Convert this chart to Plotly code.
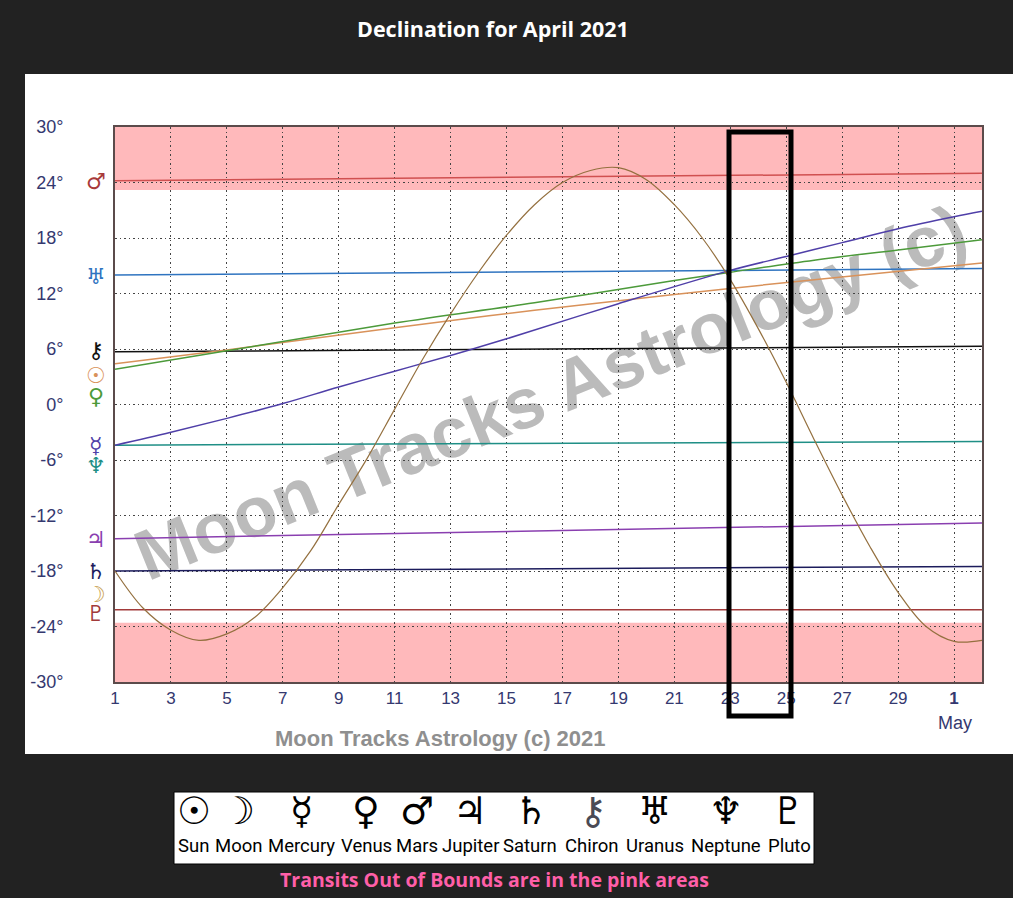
import plotly.graph_objects as go

W, H = 1013, 898

# ---------- data ----------
moon_days = list(range(1, 33))
moon = [-18.0, -22.0, -24.4, -25.5, -24.8, -23.0, -19.8, -15.8, -10.8, -5.9, -0.5, 4.9, 9.8, 14.3, 18.3, 21.6,
        24.0, 25.3, 25.6, 24.3, 21.6, 18.0, 13.5, 8.2, 2.4, -3.8, -9.8, -15.4, -20.3, -24.0, -25.6, -25.5]

sun_days = [1, 5, 11, 16, 21, 26, 32]
sun = [4.4, 5.9, 8.3, 10.2, 11.9, 13.5, 15.3]
venus_days = [1, 5, 11, 16, 21, 23, 26, 29, 32]
venus = [3.8, 5.8, 8.8, 11.0, 13.4, 14.3, 15.6, 16.7, 17.8]
mercury_days = [1, 3, 5, 7, 9, 11, 13, 15, 19, 23, 25, 27, 29, 31, 32]
mercury = [-4.4, -3.0, -1.5, 0.1, 1.9, 3.6, 5.3, 7.1, 10.9, 14.5, 16.0, 17.5, 19.0, 20.3, 20.9]

flat_days = [1, 32]
mars = [24.2, 25.0]
jupiter = [-14.5, -12.8]
saturn = [-18.0, -17.5]
chiron = [5.7, 6.3]
uranus = [14.0, 14.7]
neptune = [-4.4, -4.0]
pluto = [-22.2, -22.2]

x_ticks = list(range(1, 32, 2))
x_labels = [str(v) for v in range(1, 30, 2)] + ["<b>1</b>"]
y_ticks = list(range(-30, 31, 6))
y_labels = [f"{v}°" for v in y_ticks]
oob_north = 23.2
oob_south = -23.6

legend_names = ["Sun", "Moon", "Mercury", "Venus", "Mars", "Jupiter", "Saturn", "Chiron", "Uranus", "Neptune", "Pluto"]
legend_glyphs = ["☉", "☽", "☿", "♀", "♂", "♃", "♄", "⚷", "♅", "♆", "♇"]

# ---------- layout helpers ----------
L, R, T, B = 115, 982, 127, 682
BAND = "#ffb9bb"
AXIS = "#5b4b4b"
NAVY = "#34386f"
DOTS = "1.5px,3px"


def px(x):
    return x / W


def py(y):
    return 1 - y / H


def text(x, y, s, size, color, family="Liberation Sans", **kw):
    return dict(x=px(x), y=py(y), xref="paper", yref="paper", text=s, showarrow=False,
                font=dict(size=size, color=color, family=family),
                xanchor=kw.pop("xanchor", "center"), yanchor="middle", **kw)


fig = go.Figure()
series = [
    ("Neptune", flat_days, neptune, "#1f8f86", "linear"),
    ("Pluto", flat_days, pluto, "#a23a3a", "linear"),
    ("Saturn", flat_days, saturn, "#1c1c5c", "linear"),
    ("Jupiter", flat_days, jupiter, "#8a3fb0", "linear"),
    ("Chiron", flat_days, chiron, "#111111", "linear"),
    ("Uranus", flat_days, uranus, "#2f74c0", "linear"),
    ("Mars", flat_days, mars, "#d05050", "linear"),
    ("Sun", sun_days, sun, "#d9925a", "spline"),
    ("Venus", venus_days, venus, "#4c9a3a", "spline"),
    ("Mercury", mercury_days, mercury, "#4f3fa8", "spline"),
]
for name, xs, ys, col, shp in series:
    fig.add_trace(go.Scatter(x=xs, y=ys, mode="lines", name=name, line=dict(color=col, width=1.5, shape=shp)))
fig.add_trace(go.Scatter(x=moon_days, y=moon, mode="lines", name="Moon",
                         line=dict(color="#94703f", width=1.2, shape="spline", smoothing=1.0)))

shapes = [
    dict(type="rect", xref="paper", yref="paper", x0=px(25), x1=1, y0=py(754), y1=py(74),
         fillcolor="white", line_width=0, layer="below"),
    dict(type="rect", xref="x", yref="y", x0=1, x1=32, y0=oob_north, y1=30,
         fillcolor=BAND, line_width=0, layer="below"),
    dict(type="rect", xref="x", yref="y", x0=1, x1=32, y0=-30, y1=oob_south,
         fillcolor=BAND, line_width=0, layer="below"),
    dict(type="rect", xref="paper", yref="paper", x0=px(174), x1=px(814), y0=py(864), y1=py(792),
         fillcolor="white", line=dict(color="black", width=1), layer="below"),
    dict(type="rect", xref="paper", yref="paper", x0=px(729), x1=px(791), y0=py(716), y1=py(132),
         fillcolor="rgba(0,0,0,0)", line=dict(color="black", width=5), layer="above"),
]

annotations = [
    text(493, 29, "<b>Declination for April 2021</b>", 21.5, "white", "Open Sans"),
    text(440, 738, "<b>Moon Tracks Astrology (c) 2021</b>", 22, "#8f8f8f"),
    text(955, 723, "May", 18, NAVY),
    text(494, 879, "<b>Transits Out of Bounds are in the pink areas</b>", 19.5, "#ff5fa8", "Open Sans"),
    text(550, 392, "<b>Moon Tracks Astrology (c)</b>", 71, "#bbbbbb", textangle=-22),
]

side = [
    ("♂", 182, "#a83a3a"), ("♅", 276, "#2f74c0"), ("⚷", 351, "#111111"), ("☉", 375, "#d9925a"),
    ("♀", 397, "#4c9a3a"), ("☿", 445, "#4f3fa8"), ("♆", 465, "#1f8f86"), ("♃", 539, "#8a3fb0"),
    ("♄", 571, "#1c1c5c"), ("☽", 594, "#c9a050"), ("♇", 613, "#a23a3a"),
]
for g, y, c in side:
    annotations.append(text(96, y, g, 22, c, "DejaVu Sans"))

glyph_x = [194, 238, 301, 366, 417, 470, 531, 593, 655, 726, 788]
label_x = [193, 238, 301, 366, 417, 470, 530, 592, 655, 726, 789]
for g, n, gx, lx in zip(legend_glyphs, legend_names, glyph_x, label_x):
    annotations.append(text(gx, 811, f"<b>{g}</b>", 38, "#4a4a55" if n == "Chiron" else "black", "DejaVu Sans"))
    annotations.append(text(lx, 846, n, 18.5, "black", "Roboto"))

fig.update_layout(
    width=W, height=H, margin=dict(l=0, r=0, t=0, b=0, autoexpand=False), autosize=False,
    paper_bgcolor="#222222", plot_bgcolor="rgba(0,0,0,0)", showlegend=False,
    shapes=shapes, annotations=annotations,
    font=dict(family="Liberation Sans", color=NAVY),
    xaxis=dict(domain=[px(L), px(R)], range=[1, 32], tickmode="array", tickvals=x_ticks, ticktext=x_labels,
               showgrid=True, gridcolor="#444444", griddash=DOTS, gridwidth=1, zeroline=False,
               showline=True, linecolor=AXIS, linewidth=2, mirror=True, ticks="", tickfont=dict(size=17, color=NAVY),
               ticklabelstandoff=0),
    yaxis=dict(domain=[py(B), py(T)], range=[-30, 30], tickmode="array", tickvals=y_ticks, ticktext=y_labels,
               showgrid=True, gridcolor="#444444", griddash=DOTS, gridwidth=1, zeroline=False,
               showline=True, linecolor=AXIS, linewidth=2, mirror=True, ticks="", tickfont=dict(size=18, color=NAVY),
               ticklabelstandoff=46),
)

# keep the rotated watermark beneath the curves, as in the reference
post = """
document.body.style.margin='0';
document.body.style.background='#222222';
var gd=document.querySelector('.plotly-graph-div');
var wm=Array.from(gd.querySelectorAll('.annotation')).find(function(a){return a.textContent==='Moon Tracks Astrology (c)';});
var cl=gd.querySelector('.cartesianlayer');
if(wm&&cl){cl.parentNode.insertBefore(wm,cl);}
"""
fig.write_html("out.html", post_script=post, config={"displayModeBar": False})
